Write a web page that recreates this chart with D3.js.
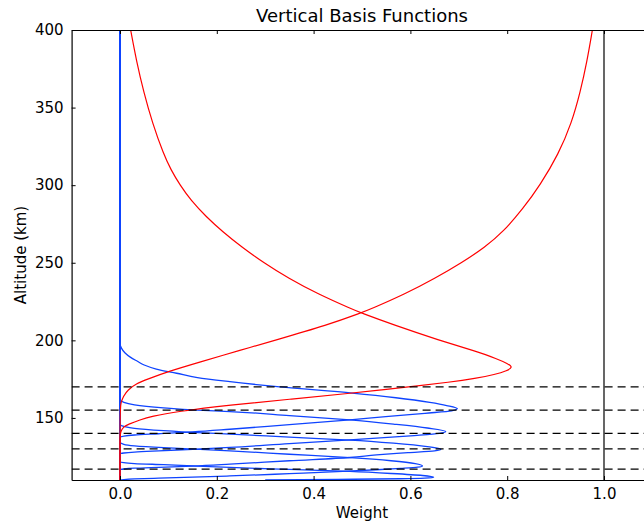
<!DOCTYPE html>
<html>
<head>
<meta charset="utf-8">
<script src="https://cdn.jsdelivr.net/npm/d3@7"></script>
<style>
  body { margin: 0; background: #fff; }
  svg { font-family: "DejaVu Sans", sans-serif; }
</style>
</head>
<body>
<svg id="chart" width="644" height="527"></svg>
<script>
// [altitude km, weight]
var redA = [[400,0.022],[380,0.034],[360,0.049],[340,0.067],[320,0.09],[310,0.105],[300,0.124],[290,0.147],
  [280,0.177],[270,0.212],[260,0.252],[250,0.297],[240,0.348],[230,0.408],[220,0.48],[217.8,0.497],[210,0.565],
  [200,0.66],[193,0.735],[188,0.78],[185,0.801],[182.7,0.812],[180.5,0.80],[178,0.775],[175.5,0.735],[173,0.68],
  [170.5,0.61],[168,0.54],[165.9,0.475],[162,0.35],[158.4,0.227],[154.1,0.117],[151,0.065],[148.7,0.041],
  [146,0.018],[144.4,0.007],[141,0.001],[138,0],[110,0],[110,0]];
var redB = [[400,0.976],[380,0.965],[360,0.951],[340,0.933],[320,0.906],[300,0.868],[285,0.833],[270,0.792],
  [260,0.754],[250,0.706],[240,0.651],[230,0.59],[220,0.517],[217.8,0.499],[210,0.43],[200,0.32],[193.8,0.25],
  [186,0.165],[180,0.1],[175,0.057],[172,0.033],[168,0.016],[164,0.007],[160,0.002],[156,0],[110,0],[110,0]];

var blue1 = [[400,0],[198,0],[195,0.003],[192,0.01],[189,0.022],[186.5,0.036],[184.1,0.05],[181.5,0.075],
  [178.8,0.117],[176,0.16],[173.4,0.227],[170,0.33],[166,0.48],[163,0.57],[160,0.64],[158,0.675],[156,0.697],
  [154.5,0.685],[153,0.63],[151,0.555],[148.7,0.475],[145.7,0.35],[142.7,0.227],[141,0.15],[139.8,0.08],
  [139,0.03],[138.3,0.008],[137.5,0],[110,0]];
var blue2 = [[400,0],[162,0],[160,0.008],[158.4,0.03],[156.5,0.09],[155,0.16],[154.1,0.227],[151.5,0.35],
  [148.7,0.475],[146,0.565],[143.5,0.635],[141.2,0.673],[140,0.66],[138.5,0.6],[135.8,0.475],[133.5,0.35],
  [131,0.227],[129.8,0.15],[128.8,0.08],[128,0.03],[127.4,0.008],[126.8,0],[110,0]];
var blue3 = [[400,0],[146,0],[144.5,0.008],[143.3,0.03],[141.8,0.09],[140.5,0.16],[139.6,0.227],[137.6,0.35],
  [135.7,0.475],[133.7,0.565],[131.5,0.635],[129.8,0.663],[128.8,0.65],[127.6,0.595],[126.2,0.53],[124.5,0.475],
  [122.4,0.35],[120.2,0.227],[119,0.15],[118.2,0.08],[117.6,0.03],[117.1,0.008],[116.6,0],[110,0]];
var blue4 = [[400,0],[134.5,0],[133,0.008],[132,0.03],[130.8,0.09],[129.8,0.16],[128.8,0.227],[126.6,0.35],
  [124.4,0.475],[122.4,0.56],[120.6,0.61],[119.1,0.625],[118.3,0.615],[117.5,0.58],[116.6,0.53],[115.5,0.46],
  [114.1,0.35],[112.6,0.227],[111.8,0.15],[111.2,0.08],[110.7,0.03],[110.3,0.008],[110,0]];
var blue5 = [[400,0],[122,0],[121.2,0.008],[120.6,0.03],[119.9,0.09],[119,0.16],[118.1,0.227],[116.8,0.35],
  [115.5,0.475],[114.2,0.56],[112.9,0.625],[111.8,0.648],[111.2,0.63],[110.8,0.58],[110.4,0.45],[110,0.3]];

var blueCurves = [blue1, blue2, blue3, blue4, blue5];
var redCurves = [redA, redB];
var knots = [170, 155, 140, 130, 117];
var xTicks = [0, 0.2, 0.4, 0.6, 0.8, 1.0];
var yTicks = [150, 200, 250, 300, 350, 400];

var svg = d3.select("#chart");
var x = d3.scaleLinear().domain([-0.1, 1.1]).range([71.6, 652.4]);
var y = d3.scaleLinear().domain([110, 400]).range([480, 30]);

svg.append("defs").append("clipPath").attr("id", "clip")
  .append("rect").attr("x", x(-0.1)).attr("y", y(400)).attr("width", x(1.1) - x(-0.1)).attr("height", y(110) - y(400));

var plot = svg.append("g").attr("clip-path", "url(#clip)");

// black verticals at 0 and 1
plot.selectAll(".vl").data([0, 1]).enter().append("line")
  .attr("x1", d => x(d)).attr("x2", d => x(d)).attr("y1", y(110)).attr("y2", y(400))
  .attr("stroke", "#000").attr("stroke-width", 1.2);

var line = d3.line().x(d => x(d[1])).y(d => y(d[0])).curve(d3.curveMonotoneY);
var smooth = d3.line().x(d => x(d[1])).y(d => y(d[0])).curve(d3.curveBasis);

plot.selectAll(".blue").data(blueCurves).enter().append("path")
  .attr("d", line).attr("fill", "none").attr("stroke", "#0f44ff").attr("stroke-width", 1.3);
plot.selectAll(".red").data(redCurves).enter().append("path")
  .attr("d", smooth).attr("fill", "none").attr("stroke", "#ff0000").attr("stroke-width", 1.2);

// dashed knot lines
plot.selectAll(".knot").data(knots).enter().append("line")
  .attr("x1", x(-0.1)).attr("x2", x(1.1)).attr("y1", d => y(d)).attr("y2", d => y(d))
  .attr("stroke", "#000").attr("stroke-width", 1.2).attr("stroke-dasharray", "8,5");

// axes, ticks inside like matplotlib classic
var fmt = d3.format(".1f");
svg.append("g").attr("transform", "translate(0," + y(110) + ")")
  .call(d3.axisBottom(x).tickValues(xTicks).tickFormat(fmt).tickSizeInner(-4).tickSizeOuter(0).tickPadding(8));
svg.append("g").attr("transform", "translate(0," + y(400) + ")")
  .call(d3.axisTop(x).tickValues(xTicks).tickFormat("").tickSizeInner(-4).tickSizeOuter(0));
svg.append("g").attr("transform", "translate(" + x(-0.1) + ",0)")
  .call(d3.axisLeft(y).tickValues(yTicks).tickFormat(d3.format("d")).tickSizeInner(-4).tickSizeOuter(0).tickPadding(8));

svg.selectAll(".tick text").attr("font-size", 15).attr("font-family", "DejaVu Sans").attr("fill", "#000");
svg.selectAll(".domain").attr("stroke", "#000").attr("stroke-width", 1.2);
svg.selectAll(".tick line").attr("stroke", "#000");

svg.append("text").attr("x", 362).attr("y", 22).attr("text-anchor", "middle")
  .attr("font-size", 18).text("Vertical Basis Functions");
svg.append("text").attr("x", 362).attr("y", 518).attr("text-anchor", "middle")
  .attr("font-size", 15).text("Weight");
svg.append("text").attr("transform", "translate(26," + y(255) + ") rotate(-90)").attr("text-anchor", "middle")
  .attr("font-size", 15).text("Altitude (km)");
</script>
</body>
</html>
